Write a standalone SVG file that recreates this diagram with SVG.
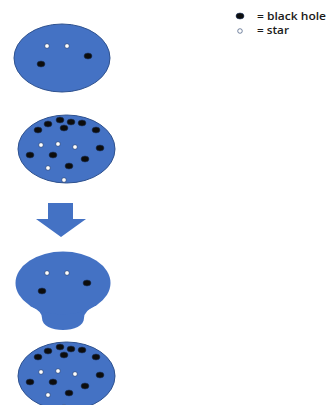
<svg xmlns="http://www.w3.org/2000/svg" width="328" height="405" viewBox="0 0 328 405">
  <style>
    .disk { fill: #4472C4; stroke: #2F528F; stroke-width: 1; }
    .blob { fill: #4472C4; }
    .bh { fill: #0D0D0D; stroke: #1F3864; stroke-width: 0.6; }
    .star { fill: #FFFFFF; stroke: #1F3864; stroke-width: 0.6; }
    .lbl { font-family: "Open Sans", "Liberation Sans", sans-serif; font-size: 11px; font-weight: 600; fill: #1A1A1A; }
  </style>
  <defs>
    <ellipse id="bh" class="bh" rx="4" ry="3"/>
    <circle id="st" class="star" r="2.3"/>
    <!-- crowded field: many black holes and a few stars -->
    <g id="field">
      <use href="#bh" x="38" y="130"/>
      <use href="#bh" x="48" y="124"/>
      <use href="#bh" x="60" y="120"/>
      <use href="#bh" x="71" y="122"/>
      <use href="#bh" x="82" y="123"/>
      <use href="#bh" x="96" y="130"/>
      <use href="#bh" x="64" y="128"/>
      <use href="#bh" x="100" y="148"/>
      <use href="#bh" x="30" y="155"/>
      <use href="#bh" x="53" y="155"/>
      <use href="#bh" x="85" y="159"/>
      <use href="#bh" x="69" y="166"/>
      <use href="#st" x="41" y="145"/>
      <use href="#st" x="58" y="144"/>
      <use href="#st" x="75" y="147"/>
      <use href="#st" x="48" y="168"/>
      <use href="#st" x="64" y="180"/>
    </g>
  </defs>

  <!-- galaxy with few objects -->
  <g id="galaxy-sparse">
    <ellipse class="disk" cx="62" cy="58" rx="48" ry="34"/>
    <use href="#st" x="47" y="46"/>
    <use href="#st" x="67" y="46"/>
    <use href="#bh" x="41" y="64"/>
    <use href="#bh" x="88" y="56"/>
  </g>

  <!-- galaxy crowded with black holes -->
  <g id="galaxy-dense">
    <ellipse class="disk" cx="66.5" cy="149" rx="48.5" ry="34"/>
    <use href="#field"/>
  </g>

  <!-- transition arrow -->
  <g id="arrow">
    <polygon class="blob" points="48,203 73,203 73,219 86,219 61,237 36,219 48,219"/>
  </g>

  <!-- galaxy with a bulge: head plus a rounded stem with filleted joins -->
  <g id="galaxy-bulge">
    <path class="blob" d="M30,306 Q42,311 42,318 C42,326 52,330 63,330 C74,330 84,326 84,318 Q84,311 96,305 L63,290 Z"/>
    <ellipse class="blob" cx="63" cy="283" rx="47.5" ry="31.5"/>
    <use href="#st" x="47" y="273"/>
    <use href="#st" x="67" y="273"/>
    <use href="#bh" x="42" y="291"/>
    <use href="#bh" x="87" y="283"/>
  </g>

  <!-- second crowded galaxy -->
  <g id="galaxy-dense-2">
    <ellipse class="disk" cx="66.5" cy="376" rx="48.5" ry="34"/>
    <use href="#field" y="227"/>
  </g>

  <!-- legend -->
  <g id="legend">
    <use href="#bh" x="240" y="16"/>
    <use href="#st" x="240" y="31"/>
    <text class="lbl" x="257" y="19.5" textLength="69" lengthAdjust="spacingAndGlyphs">= black hole</text>
    <text class="lbl" x="257" y="34" textLength="32" lengthAdjust="spacingAndGlyphs">= star</text>
  </g>
</svg>
